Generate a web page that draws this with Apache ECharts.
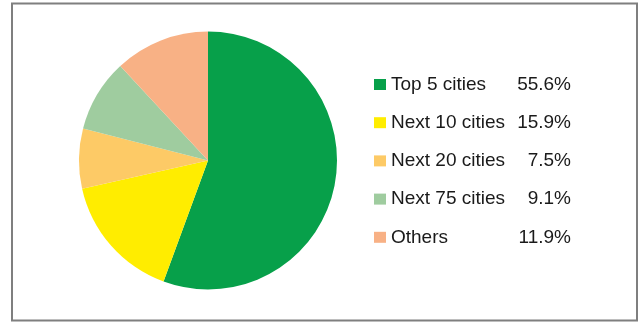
<!DOCTYPE html>
<html>
<head>
<meta charset="utf-8">
<script src="https://cdn.jsdelivr.net/npm/echarts@6/dist/echarts.min.js"></script>
<style>
  html, body { margin: 0; padding: 0; background: #fff; }
  #chart { width: 640px; height: 322px; }
</style>
</head>
<body>
<div id="chart"></div>
<script>
// City groups and their share of the total
const categories = ['Top 5 cities', 'Next 10 cities', 'Next 20 cities', 'Next 75 cities', 'Others'];
const shares = [55.6, 15.9, 7.5, 9.1, 11.9];
const colors = ['#07a04a', '#ffed00', '#fdca66', '#9fcc9f', '#f8b185'];

const chart = echarts.init(document.getElementById('chart'), null, { renderer: 'canvas' });

const shareByName = {};
categories.forEach((c, i) => { shareByName[c] = shares[i]; });

const font = 'Liberation Sans, Arial, sans-serif';

chart.setOption({
  animation: false,
  color: colors,
  graphic: [{
    type: 'rect',
    shape: { x: 12, y: 3.5, width: 625, height: 317 },
    style: { fill: 'none', stroke: '#7f7f7f', lineWidth: 2 },
    silent: true
  }],
  legend: {
    orient: 'vertical',
    left: 374,
    top: 75,
    padding: 0,
    itemWidth: 12,
    itemHeight: 11,
    itemGap: 19.2,
    icon: 'rect',
    selectedMode: false,
    data: categories,
    formatter: name => '{n|' + name + '}{v|' + shareByName[name].toFixed(1) + '%}',
    textStyle: {
      fontFamily: font,
      fontSize: 19,
      color: '#1a1a1a',
      rich: {
        n: { fontFamily: font, fontSize: 19, color: '#1a1a1a', width: 122 },
        v: { fontFamily: font, fontSize: 19, color: '#1a1a1a', width: 58, align: 'right' }
      }
    }
  },
  series: [{
    type: 'pie',
    center: [208, 160.5],
    radius: [0, 129],
    startAngle: 90,
    clockwise: true,
    label: { show: false },
    labelLine: { show: false },
    emphasis: { disabled: true },
    itemStyle: { borderWidth: 0 },
    data: categories.map((c, i) => ({ name: c, value: shares[i] }))
  }]
});
</script>
</body>
</html>
